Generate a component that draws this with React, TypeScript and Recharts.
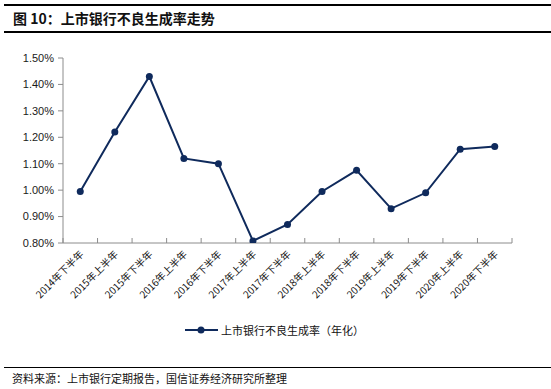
import React from 'react';
import { ComposedChart, Line, XAxis, YAxis } from 'recharts';

// half-year periods on the x axis
const periods = [
  '2014年下半年', '2015年上半年', '2015年下半年', '2016年上半年', '2016年下半年',
  '2017年上半年', '2017年下半年', '2018年上半年', '2018年下半年', '2019年上半年',
  '2019年下半年', '2020年上半年', '2020年下半年',
];
// 上市银行不良生成率（年化）
const nplRate = [
  0.00995, 0.0122, 0.0143, 0.0112, 0.0110, 0.00808, 0.0087, 0.00995, 0.01075,
  0.0093, 0.0099, 0.01155, 0.01165,
];
const yTicks = [0.008, 0.009, 0.010, 0.011, 0.012, 0.013, 0.014, 0.015];

const seriesName = '上市银行不良生成率（年化）';
const navy = '#0f2a5c';
const axisGray = '#8c8c8c';
const cjkFont = '"Noto Sans CJK SC", sans-serif';

const data = periods.map((period, i) => ({ period, rate: nplRate[i] }));

const XTick = (props: any) => {
  const { x, y, payload, index } = props;
  const half = payload && payload.offset ? payload.offset : 17.3;
  const last = index === periods.length - 1;
  return (
    <g>
      <line x1={x - half} y1={y} x2={x - half} y2={y - 5} stroke={axisGray} />
      {last && <line x1={x + half} y1={y} x2={x + half} y2={y - 5} stroke={axisGray} />}
      <text
        x={x + 4}
        y={y + 12}
        transform={`rotate(-45, ${x + 4}, ${y + 12})`}
        textAnchor="end"
        fontSize={10}
        fill="#111"
        fontFamily={cjkFont}
      >
        {payload.value}
      </text>
    </g>
  );
};

export default function App() {
  return (
    <div style={{ position: 'absolute', left: 0, top: 0, width: 551, height: 389, background: '#fff' }}>
      <div
        style={{
          position: 'absolute', left: 4, top: 4, width: 543, height: 25,
          borderTop: '2px solid #000', borderBottom: '2px solid #000',
          fontFamily: cjkFont, fontWeight: 'bold', fontSize: 14, lineHeight: '25px',
          paddingLeft: 9, boxSizing: 'content-box', color: '#111',
        }}
      >
        图 10：上市银行不良生成率走势
      </div>

      <ComposedChart
        width={551}
        height={389}
        data={data}
        margin={{ top: 58, right: 39, left: 3, bottom: 86 }}
      >
        <XAxis
          dataKey="period"
          scale="band"
          interval={0}
          height={60}
          stroke={axisGray}
          tickLine={false}
          tickSize={0}
          tickMargin={0}
          tick={<XTick />}
        />
        <YAxis
          width={60}
          domain={[0.008, 0.015]}
          ticks={yTicks}
          allowDataOverflow
          stroke={axisGray}
          tickSize={5}
          tickMargin={4}
          tick={{ fill: '#1a1a1a', fontSize: 11, fontFamily: '"Liberation Sans", Arial, sans-serif' }}
          tickFormatter={(v: number) => `${(v * 100).toFixed(2)}%`}
        />
        <Line
          type="linear"
          dataKey="rate"
          name={seriesName}
          stroke={navy}
          strokeWidth={2}
          dot={{ r: 3.5, fill: navy, stroke: navy, strokeWidth: 0 }}
          isAnimationActive={false}
        />
      </ComposedChart>

      <div
        style={{
          position: 'absolute', left: 185, top: 321, height: 18, display: 'flex', alignItems: 'center',
          fontFamily: cjkFont, fontSize: 11, color: '#111',
        }}
      >
        <svg width={33} height={10} style={{ marginRight: 3 }}>
          <line x1={0} y1={5} x2={33} y2={5} stroke={navy} strokeWidth={2} />
          <circle cx={16} cy={5} r={3.5} fill={navy} />
        </svg>
        {seriesName}
      </div>

      <div
        style={{
          position: 'absolute', left: 4, top: 367, width: 543, borderTop: '1.5px solid #000',
          fontFamily: cjkFont, fontSize: 11, color: '#111', paddingLeft: 8, paddingTop: 2,
        }}
      >
        资料来源：上市银行定期报告，国信证券经济研究所整理
      </div>
    </div>
  );
}
